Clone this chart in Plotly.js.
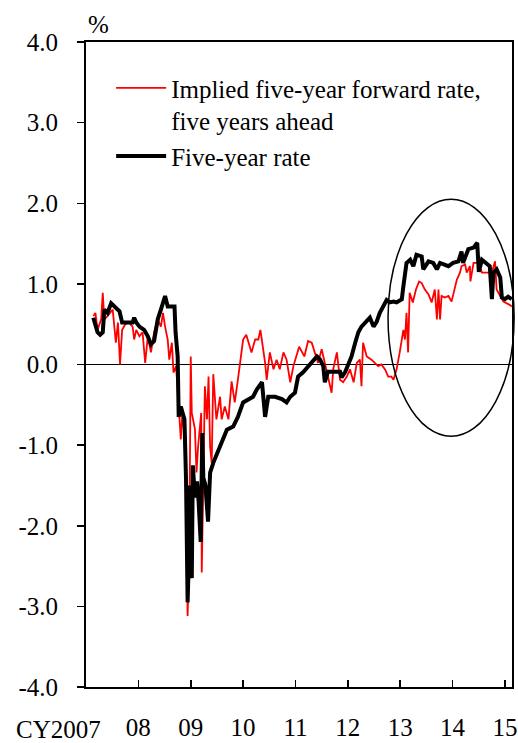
<!DOCTYPE html>
<html>
<head>
<meta charset="utf-8">
<script src="https://cdn.plot.ly/plotly-3.0.1.min.js"></script>
<style>
html,body{margin:0;padding:0;background:#fff;}
#chart{width:518px;height:743px;}
</style>
</head>
<body>
<div id="chart"></div>
<script>
// Time in decimal calendar years
const fwdT = [2007.14,2007.18,2007.22,2007.29,2007.32,2007.35,2007.41,2007.51,2007.57,2007.61,2007.65,2007.69,2007.75,2007.82,2007.89,2007.92,2007.96,
2008.02,2008.08,2008.13,2008.18,2008.24,2008.30,2008.37,2008.43,2008.47,2008.51,2008.56,2008.59,2008.64,2008.67,2008.72,2008.79,2008.81,2008.84,2008.88,2008.91,2008.94,2008.97,2008.99,
2009.00,2009.02,2009.08,2009.11,2009.14,2009.20,2009.21,2009.27,2009.31,2009.34,2009.37,2009.40,2009.43,2009.46,2009.49,2009.56,2009.59,2009.65,2009.72,2009.78,2009.84,2009.90,2009.93,2009.96,
2010.00,2010.06,2010.10,2010.16,2010.23,2010.29,2010.33,2010.37,2010.42,2010.45,2010.51,2010.58,2010.64,2010.70,2010.77,2010.83,2010.90,2010.96,
2011.02,2011.07,2011.17,2011.24,2011.31,2011.37,2011.43,2011.50,2011.56,2011.62,2011.69,2011.72,2011.79,2011.85,2011.91,2011.98,
2012.04,2012.11,2012.17,2012.23,2012.26,2012.29,2012.36,2012.45,2012.52,2012.58,2012.64,2012.71,2012.77,2012.83,2012.87,2012.93,2012.99,
2013.06,2013.09,2013.12,2013.15,2013.18,2013.24,2013.30,2013.36,2013.41,2013.47,2013.54,2013.60,2013.66,2013.70,2013.73,2013.76,2013.79,2013.85,2013.92,2013.98,
2014.01,2014.08,2014.14,2014.17,2014.24,2014.27,2014.33,2014.34,2014.40,2014.50,2014.56,2014.75,2014.81,2014.84,2014.91,2014.97,2015.09,2015.13];
const fwdV = [0.60,0.64,0.43,0.56,0.89,0.56,0.60,0.68,0.27,0.52,0.00,0.43,0.50,0.52,0.47,0.31,0.43,
0.35,0.40,0.02,0.35,0.15,0.40,0.56,0.47,0.64,0.47,0.31,0.06,0.27,-0.10,-0.02,-0.72,-0.93,-0.60,-0.89,-1.64,-3.12,-2.46,-1.00,
0.10,-0.60,-0.80,-1.34,-1.02,-0.60,-2.58,-0.27,-0.68,-0.15,-1.02,-1.22,-0.12,-0.40,-0.68,-0.40,-0.68,-0.52,-0.68,-0.21,-0.47,-0.19,-0.02,0.10,
0.31,0.37,0.27,0.15,0.31,0.31,0.43,0.27,0.02,-0.19,0.15,-0.06,0.06,-0.06,0.15,0.06,-0.22,-0.02,
0.10,0.22,0.10,0.29,0.27,0.15,0.02,0.19,0.02,-0.15,-0.35,-0.06,0.15,-0.19,-0.22,-0.15,
-0.06,-0.22,0.02,0.06,-0.27,0.27,0.10,0.06,0.02,-0.02,0.00,-0.06,-0.15,-0.15,-0.19,-0.06,0.15,
0.43,0.31,0.64,0.15,0.89,0.77,0.93,1.03,1.01,0.93,0.87,0.77,0.93,0.56,0.93,0.56,0.85,0.83,0.85,0.78,
0.87,1.05,1.14,1.22,1.24,1.14,1.22,1.03,1.26,1.26,1.14,1.14,1.28,0.93,0.85,0.78,0.74,0.72];

const fiveT = [2007.14,2007.22,2007.27,2007.32,2007.35,2007.41,2007.48,2007.57,2007.64,2007.69,2007.89,2007.92,2007.96,
2008.02,2008.11,2008.18,2008.24,2008.30,2008.37,2008.43,2008.51,2008.56,2008.69,2008.71,2008.75,2008.77,2008.81,2008.88,2008.91,2008.94,2008.96,2008.98,
2009.02,2009.04,2009.08,2009.12,2009.15,2009.19,2009.22,2009.24,2009.28,2009.33,2009.37,2009.43,2009.56,2009.69,2009.81,2009.90,
2010.00,2010.09,2010.19,2010.26,2010.36,2010.42,2010.48,2010.61,2010.74,2010.83,2010.90,2010.99,
2011.05,2011.14,2011.28,2011.41,2011.47,2011.53,2011.56,2011.62,2011.85,2011.88,2011.95,
2012.00,2012.07,2012.14,2012.20,2012.26,2012.36,2012.42,2012.49,2012.55,2012.61,2012.68,2012.74,2012.80,2012.87,2012.93,
2013.03,2013.06,2013.12,2013.19,2013.25,2013.31,2013.41,2013.44,2013.54,2013.63,2013.70,2013.76,2013.92,
2014.01,2014.11,2014.17,2014.20,2014.30,2014.40,2014.47,2014.50,2014.56,2014.65,2014.71,2014.75,2014.78,2014.84,2014.91,2014.94,
2015.00,2015.06,2015.13];
const fiveV = [0.58,0.40,0.37,0.40,0.68,0.64,0.76,0.70,0.66,0.52,0.52,0.58,0.52,
0.47,0.43,0.35,0.25,0.29,0.56,0.68,0.85,0.72,0.72,0.40,0.10,-0.65,-0.52,-0.68,-1.43,-2.95,-2.50,-1.50,
-2.65,-1.25,-1.65,-1.45,-1.70,-2.20,-0.85,-1.40,-1.50,-1.95,-1.34,-1.22,-1.02,-0.81,-0.77,-0.65,
-0.47,-0.43,-0.40,-0.31,-0.22,-0.65,-0.40,-0.40,-0.43,-0.47,-0.40,-0.35,
-0.15,-0.10,0.00,0.10,0.06,-0.02,-0.22,-0.09,-0.09,-0.16,-0.09,
-0.02,0.10,0.27,0.40,0.47,0.53,0.58,0.47,0.53,0.64,0.74,0.80,0.77,0.78,0.77,
0.81,0.97,1.26,1.30,1.22,1.36,1.34,1.18,1.28,1.26,1.18,1.26,1.22,
1.26,1.28,1.40,1.26,1.43,1.45,1.51,1.15,1.30,1.26,1.22,0.81,1.14,1.18,1.08,0.83,
0.81,0.84,0.81];

const yearTicks = [2008,2009,2010,2011,2012,2013,2014,2015];
const yearLabels = ['08','09','10','11','12','13','14','15'];
const firstYearLabel = 'CY2007';
const valueTicks = [-4,-3,-2,-1,0,1,2,3,4];
const valueLabels = ['-4.0','-3.0','-2.0','-1.0','0.0','1.0','2.0','3.0','4.0'];
const seriesNames = ['Implied five-year forward rate,<br>five years ahead','Five-year rate'];

const FONT = 'Liberation Serif';

const traces = [
  {x: fwdT, y: fwdV, type: 'scatter', mode: 'lines', name: seriesNames[0],
   line: {color: '#ff0000', width: 1.8}},
  {x: fiveT, y: fiveV, type: 'scatter', mode: 'lines', name: seriesNames[1],
   line: {color: '#000000', width: 4}}
];

const layout = {
  width: 518, height: 743,
  margin: {l: 86, r: 6, t: 42, b: 56},
  paper_bgcolor: '#ffffff', plot_bgcolor: '#ffffff',
  font: {family: FONT, size: 25, color: '#000'},
  showlegend: true,
  legend: {x: 0.059, y: 0.964, xanchor: 'left', yanchor: 'top', valign: 'top',
    font: {family: FONT, size: 25, color: '#000'}, bgcolor: 'rgba(0,0,0,0)',
    itemwidth: 50, tracegroupgap: 0},
  xaxis: {range: [2007, 2015.134], tickvals: yearTicks, ticktext: yearLabels,
    ticks: 'inside', ticklen: 7, tickwidth: 1.5, tickcolor: '#000',
    showline: true, linecolor: '#000', linewidth: 2, mirror: true,
    showgrid: false, zeroline: false, ticklabelstandoff: 17,
    tickfont: {family: FONT, size: 25, color: '#000'}},
  yaxis: {range: [-4, 4], tickvals: valueTicks, ticktext: valueLabels,
    ticks: 'outside', ticklen: 7, tickwidth: 1.5, tickcolor: '#000',
    showline: true, linecolor: '#000', linewidth: 2, mirror: true,
    showgrid: false, zeroline: true, zerolinecolor: '#000', zerolinewidth: 1.5,
    ticklabelstandoff: 14,
    tickfont: {family: FONT, size: 25, color: '#000'}},
  annotations: [
    {text: '%', xref: 'paper', yref: 'paper', x: 0.0, y: 1.0, xanchor: 'left', yanchor: 'bottom',
     yshift: 2, showarrow: false, font: {family: FONT, size: 25, color: '#000'}},
    {text: firstYearLabel, xref: 'paper', yref: 'paper', x: -0.0634, y: 0, xanchor: 'center', yanchor: 'top',
     yshift: -27, showarrow: false, font: {family: FONT, size: 25, color: '#000'}}
  ],
  shapes: [
    {type: 'circle', xref: 'paper', yref: 'y', x0: 0.709, x1: 1.005, y0: -0.89, y1: 2.05,
     line: {color: '#000', width: 1.5}, fillcolor: 'rgba(0,0,0,0)', layer: 'above'}
  ]
};

Plotly.newPlot('chart', traces, layout, {staticPlot: true, displayModeBar: false});
</script>
</body>
</html>
